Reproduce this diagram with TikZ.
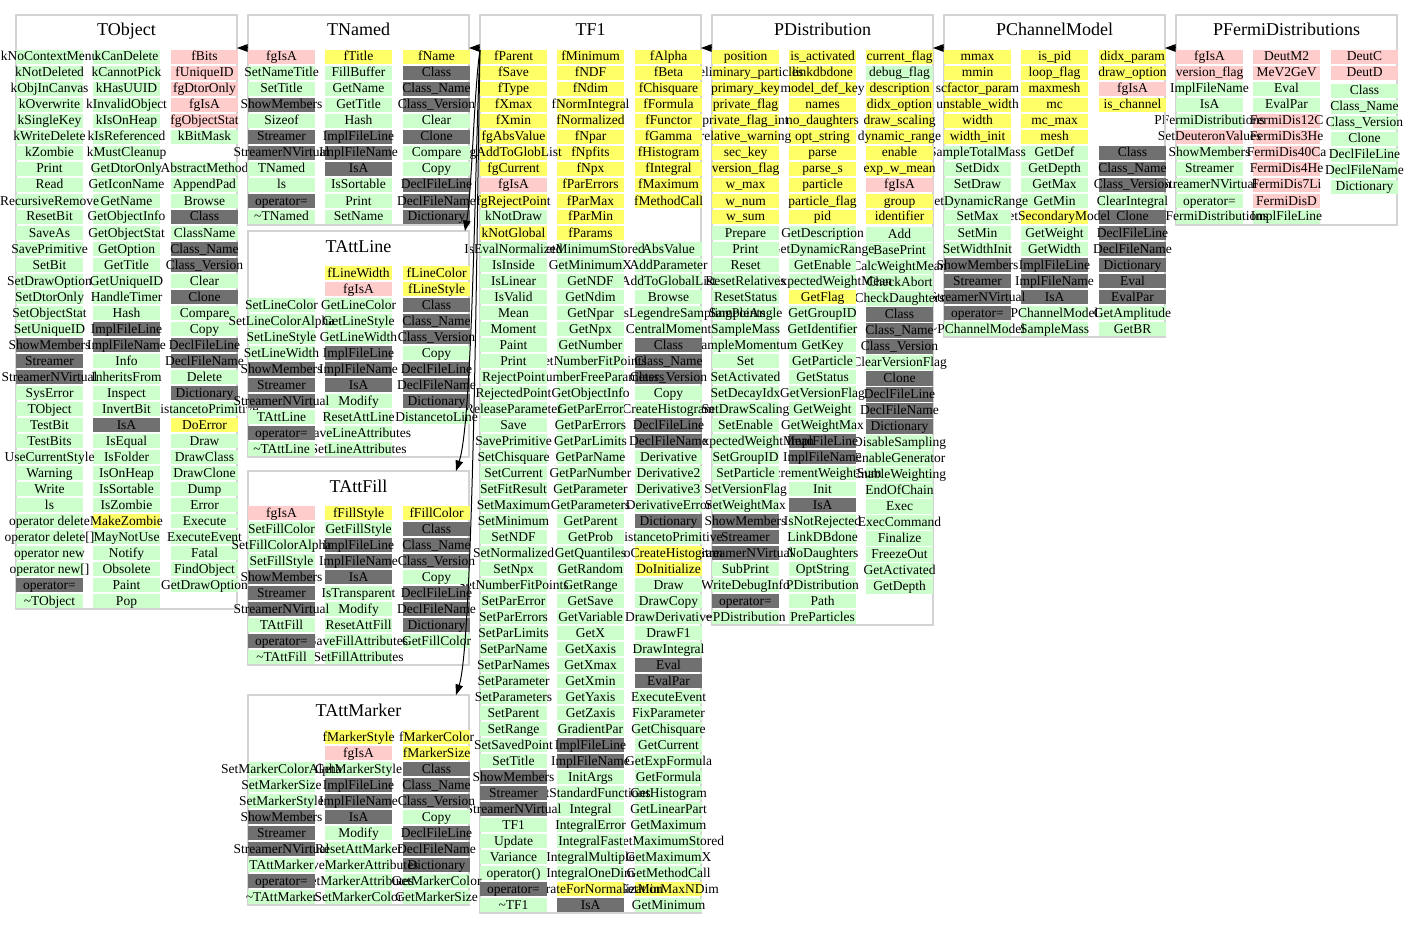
\documentclass[tikz,border=0pt]{standalone}
\usepackage{fontspec}
\setmainfont{Liberation Serif}
\usetikzlibrary{arrows.meta}

\definecolor{cm}{HTML}{CCFFCC}   % public methods
\definecolor{cy}{HTML}{FFFF66}   % protected members
\definecolor{cp}{HTML}{FFCCCC}   % private members
\definecolor{cd}{HTML}{707070}   % generated dictionary members
\definecolor{framegray}{HTML}{D3D3D3}

\newcommand\cellfont{\fontsize{13.5}{13.5}\selectfont}
\newcommand\titlefont{\fontsize{18}{18}\selectfont}

\tikzset{
  member/.style={anchor=base, inner sep=0pt, font=\cellfont},
  classbox/.style={draw=framegray, line width=1.3pt, anchor=north west,
    minimum width=221pt, inner sep=0pt, outer sep=0pt},
  classtitle/.style={anchor=base, inner sep=0pt, font=\titlefont},
  inherit/.style={-{Triangle[length=10.5pt,width=7.5pt]}, line width=1pt, black}
}

% one column of member cells
% #1 class name, #2 column, #3 left edge, #4 y of row 0, #5 row/colour/text list
\newcommand\membercol[5]{%
  \foreach \rw/\cl/\tx in {#5}{%
    \fill[fill=\cl] (#3,#4+\rw*16-7.3) rectangle ++(67,14.6);
    \node[member] (#1-#2-\rw) at (#3+33.5,#4+\rw*16+4) {\tx};
  }}

% class frame and title: #1 name, #2 left, #3 top, #4 height, #5 title
\newcommand\classframe[5]{%
  \node[classbox, minimum height=#4pt] (#1) at (#2,#3) {};
  \node[classtitle] (#1-title) at (#2+110.5,#3+21) {#5};
}

\begin{document}
\begin{tikzpicture}[x=1pt, y=-1pt]
\useasboundingbox (0,0) rectangle (1413,928);
\fill[white] (0,0) rectangle (1413,928);

% ---------------- PFermiDistributions ----------------
\classframe{pfermi}{1176}{15}{210}{PFermiDistributions}
\membercol{pfermi}{3}{1331}{57}{0/cp/DeutC, 1/cp/DeutD}
\membercol{pfermi}{3}{1331}{59}{2/cm/Class, 3/cm/Class\_Name, 4/cm/Class\_Version, 5/cm/Clone,
  6/cm/DeclFileLine, 7/cm/DeclFileName, 8/cm/Dictionary}
\membercol{pfermi}{2}{1253}{57}{0/cp/DeutM2, 1/cp/MeV2GeV, 2/cm/Eval, 3/cm/EvalPar,
  4/cp/FermiDis12C, 5/cp/FermiDis3He, 6/cp/FermiDis40Ca, 7/cp/FermiDis4He,
  8/cp/FermiDis7Li, 9/cp/FermiDisD, 10/cm/ImplFileLine}
\membercol{pfermi}{1}{1176}{57}{0/cp/fgIsA, 1/cp/version\_flag, 2/cm/ImplFileName, 3/cm/IsA,
  4/cm/PFermiDistributions, 5/cp/SetDeuteronValues, 6/cm/ShowMembers, 7/cm/Streamer,
  8/cm/StreamerNVirtual, 9/cm/operator=, 10/cm/\textasciitilde PFermiDistributions}

% ---------------- PChannelModel ----------------
\classframe{pchannel}{944}{15}{322}{PChannelModel}
\membercol{pchannel}{3}{1099}{57}{0/cy/didx\_param, 1/cy/draw\_option, 2/cp/fgIsA, 3/cy/is\_channel,
  6/cd/Class, 7/cd/Class\_Name, 8/cd/Class\_Version, 9/cm/ClearIntegral, 10/cd/Clone,
  11/cd/DeclFileLine, 12/cd/DeclFileName, 13/cd/Dictionary, 14/cd/Eval, 15/cd/EvalPar,
  16/cm/GetAmplitude, 17/cm/GetBR}
\membercol{pchannel}{2}{1021}{57}{0/cy/is\_pid, 1/cy/loop\_flag, 2/cy/maxmesh, 3/cy/mc,
  4/cy/mc\_max, 5/cy/mesh, 6/cm/GetDef, 7/cm/GetDepth, 8/cm/GetMax, 9/cm/GetMin,
  10/cy/GetSecondaryModel, 11/cm/GetWeight, 12/cm/GetWidth, 13/cd/ImplFileLine,
  14/cd/ImplFileName, 15/cd/IsA, 16/cm/PChannelModel, 17/cm/SampleMass}
\membercol{pchannel}{1}{944}{57}{0/cy/mmax, 1/cy/mmin, 2/cy/scfactor\_param, 3/cy/unstable\_width,
  4/cy/width, 5/cy/width\_init, 6/cm/SampleTotalMass, 7/cm/SetDidx, 8/cm/SetDraw,
  9/cm/SetDynamicRange, 10/cm/SetMax, 11/cm/SetMin, 12/cm/SetWidthInit, 13/cd/ShowMembers,
  14/cd/Streamer, 15/cd/StreamerNVirtual, 16/cd/operator=, 17/cm/\textasciitilde PChannelModel}

% ---------------- PDistribution ----------------
\classframe{pdist}{712}{15}{610}{PDistribution}
\membercol{pdist}{3}{866}{57}{0/cy/current\_flag, 1/cm/debug\_flag, 2/cy/description,
  3/cy/didx\_option, 4/cy/draw\_scaling, 5/cy/dynamic\_range, 6/cy/enable, 7/cy/exp\_w\_mean,
  8/cp/fgIsA, 9/cy/group, 10/cy/identifier}
\membercol{pdist}{3}{866}{58.5}{11/cm/Add, 12/cm/BasePrint, 13/cm/CalcWeightMean, 14/cm/CheckAbort,
  15/cm/CheckDaughters, 16/cd/Class, 17/cd/Class\_Name, 18/cd/Class\_Version,
  19/cm/ClearVersionFlag, 20/cd/Clone, 21/cd/DeclFileLine, 22/cd/DeclFileName,
  23/cd/Dictionary, 24/cm/DisableSampling, 25/cm/EnableGenerator, 26/cm/EnableWeighting,
  27/cm/EndOfChain, 28/cm/Exec, 29/cm/ExecCommand, 30/cm/Finalize, 31/cm/FreezeOut,
  32/cm/GetActivated, 33/cm/GetDepth}
\membercol{pdist}{2}{789}{57}{0/cy/is\_activated, 1/cy/linkdbdone, 2/cy/model\_def\_key,
  3/cy/names, 4/cy/no\_daughters, 5/cy/opt\_string, 6/cy/parse, 7/cy/parse\_s,
  8/cy/particle, 9/cy/particle\_flag, 10/cy/pid, 11/cm/GetDescription,
  12/cm/GetDynamicRange, 13/cm/GetEnable, 14/cm/GetExpectedWeightMean, 15/cy/GetFlag,
  16/cm/GetGroupID, 17/cm/GetIdentifier, 18/cm/GetKey, 19/cm/GetParticle, 20/cm/GetStatus,
  21/cm/GetVersionFlag, 22/cm/GetWeight, 23/cm/GetWeightMax, 24/cd/ImplFileLine,
  25/cd/ImplFileName, 26/cm/IncrementWeightSum, 27/cm/Init, 28/cd/IsA, 29/cm/IsNotRejected,
  30/cm/LinkDBdone, 31/cm/NoDaughters, 32/cm/OptString, 33/cm/PDistribution, 34/cm/Path,
  35/cm/PreParticles}
\membercol{pdist}{1}{712}{57}{0/cy/position, 1/cy/preliminary\_particles, 2/cy/primary\_key,
  3/cy/private\_flag, 4/cy/private\_flag\_int, 5/cy/relative\_warning, 6/cy/sec\_key,
  7/cy/version\_flag, 8/cy/w\_max, 9/cy/w\_num, 10/cy/w\_sum, 11/cm/Prepare, 12/cm/Print,
  13/cm/Reset, 14/cm/ResetRelatives, 15/cm/ResetStatus, 16/cm/SampleAngle, 17/cm/SampleMass,
  18/cm/SampleMomentum, 19/cm/Set, 20/cm/SetActivated, 21/cm/SetDecayIdx,
  22/cm/SetDrawScaling, 23/cm/SetEnable, 24/cm/SetExpectedWeightMean, 25/cm/SetGroupID,
  26/cm/SetParticle, 27/cm/SetVersionFlag, 28/cm/SetWeightMax, 29/cd/ShowMembers,
  30/cd/Streamer, 31/cd/StreamerNVirtual, 32/cm/SubPrint, 33/cm/WriteDebugInfo,
  34/cd/operator=, 35/cm/\textasciitilde PDistribution}

% ---------------- TF1 ----------------
\classframe{tf1}{480}{15}{898}{TF1}
\membercol{tf1}{3}{635}{57}{0/cy/fAlpha, 1/cy/fBeta, 2/cy/fChisquare, 3/cy/fFormula, 4/cy/fFunctor,
  5/cy/fGamma, 6/cy/fHistogram, 7/cy/fIntegral, 8/cy/fMaximum, 9/cy/fMethodCall,
  12/cm/AbsValue, 13/cm/AddParameter, 14/cm/AddToGlobalList, 15/cm/Browse,
  16/cm/CalcGaussLegendreSamplingPoints, 17/cm/CentralMoment, 18/cd/Class, 19/cd/Class\_Name,
  20/cd/Class\_Version, 21/cm/Copy, 22/cm/CreateHistogram, 23/cd/DeclFileLine,
  24/cd/DeclFileName, 25/cm/Derivative, 26/cm/Derivative2, 27/cm/Derivative3,
  28/cm/DerivativeError, 29/cd/Dictionary, 30/cm/DistancetoPrimitive, 31/cy/DoCreateHistogram,
  32/cy/DoInitialize, 33/cm/Draw, 34/cm/DrawCopy, 35/cm/DrawDerivative, 36/cm/DrawF1,
  37/cm/DrawIntegral, 38/cd/Eval, 39/cd/EvalPar, 40/cm/ExecuteEvent, 41/cm/FixParameter,
  42/cm/GetChisquare, 43/cm/GetCurrent, 44/cm/GetExpFormula, 45/cm/GetFormula,
  46/cm/GetHistogram, 47/cm/GetLinearPart, 48/cm/GetMaximum, 49/cm/GetMaximumStored,
  50/cm/GetMaximumX, 51/cm/GetMethodCall, 52/cy/GetMinMaxNDim, 53/cm/GetMinimum}
\membercol{tf1}{2}{557}{57}{0/cy/fMinimum, 1/cy/fNDF, 2/cy/fNdim, 3/cy/fNormIntegral, 4/cy/fNormalized,
  5/cy/fNpar, 6/cy/fNpfits, 7/cy/fNpx, 8/cy/fParErrors, 9/cy/fParMax, 10/cy/fParMin,
  11/cy/fParams, 12/cm/GetMinimumStored, 13/cm/GetMinimumX, 14/cm/GetNDF, 15/cm/GetNdim,
  16/cm/GetNpar, 17/cm/GetNpx, 18/cm/GetNumber, 19/cm/GetNumberFitPoints,
  20/cm/GetNumberFreeParameters, 21/cm/GetObjectInfo, 22/cm/GetParError, 23/cm/GetParErrors,
  24/cm/GetParLimits, 25/cm/GetParName, 26/cm/GetParNumber, 27/cm/GetParameter,
  28/cm/GetParameters, 29/cm/GetParent, 30/cm/GetProb, 31/cm/GetQuantiles, 32/cm/GetRandom,
  33/cm/GetRange, 34/cm/GetSave, 35/cm/GetVariable, 36/cm/GetX, 37/cm/GetXaxis,
  38/cm/GetXmax, 39/cm/GetXmin, 40/cm/GetYaxis, 41/cm/GetZaxis, 42/cm/GradientPar,
  43/cd/ImplFileLine, 44/cd/ImplFileName, 45/cm/InitArgs, 46/cm/InitStandardFunctions,
  47/cm/Integral, 48/cm/IntegralError, 49/cm/IntegralFast, 50/cm/IntegralMultiple,
  51/cm/IntegralOneDim, 52/cy/IntegrateForNormalization, 53/cd/IsA}
\membercol{tf1}{1}{480}{57}{0/cy/fParent, 1/cy/fSave, 2/cy/fType, 3/cy/fXmax, 4/cy/fXmin,
  5/cy/fgAbsValue, 6/cy/fgAddToGlobList, 7/cy/fgCurrent, 8/cp/fgIsA, 9/cy/fgRejectPoint,
  10/cm/kNotDraw, 11/cy/kNotGlobal, 12/cm/IsEvalNormalized, 13/cm/IsInside, 14/cm/IsLinear,
  15/cm/IsValid, 16/cm/Mean, 17/cm/Moment, 18/cm/Paint, 19/cm/Print, 20/cm/RejectPoint,
  21/cm/RejectedPoint, 22/cm/ReleaseParameter, 23/cm/Save, 24/cm/SavePrimitive,
  25/cm/SetChisquare, 26/cm/SetCurrent, 27/cm/SetFitResult, 28/cm/SetMaximum,
  29/cm/SetMinimum, 30/cm/SetNDF, 31/cm/SetNormalized, 32/cm/SetNpx,
  33/cm/SetNumberFitPoints, 34/cm/SetParError, 35/cm/SetParErrors, 36/cm/SetParLimits,
  37/cm/SetParName, 38/cm/SetParNames, 39/cm/SetParameter, 40/cm/SetParameters,
  41/cm/SetParent, 42/cm/SetRange, 43/cm/SetSavedPoint, 44/cm/SetTitle, 45/cd/ShowMembers,
  46/cd/Streamer, 47/cd/StreamerNVirtual, 48/cm/TF1, 49/cm/Update, 50/cm/Variance,
  51/cm/operator(), 52/cd/operator=, 53/cm/\textasciitilde TF1}

% ---------------- TObject ----------------
\classframe{tobject}{16}{15}{594}{TObject}
\membercol{tobject}{3}{171}{57}{0/cp/fBits, 1/cp/fUniqueID, 2/cp/fgDtorOnly, 3/cp/fgIsA,
  4/cp/fgObjectStat, 5/cm/kBitMask, 7/cm/AbstractMethod, 8/cm/AppendPad, 9/cm/Browse,
  10/cd/Class, 11/cm/ClassName, 12/cd/Class\_Name, 13/cd/Class\_Version, 14/cm/Clear,
  15/cd/Clone, 16/cm/Compare, 17/cm/Copy, 18/cd/DeclFileLine, 19/cd/DeclFileName,
  20/cm/Delete, 21/cd/Dictionary, 22/cm/DistancetoPrimitive, 23/cy/DoError, 24/cm/Draw,
  25/cm/DrawClass, 26/cm/DrawClone, 27/cm/Dump, 28/cm/Error, 29/cm/Execute,
  30/cm/ExecuteEvent, 31/cm/Fatal, 32/cm/FindObject, 33/cm/GetDrawOption}
\membercol{tobject}{2}{93}{57}{0/cm/kCanDelete, 1/cm/kCannotPick, 2/cm/kHasUUID,
  3/cm/kInvalidObject, 4/cm/kIsOnHeap, 5/cm/kIsReferenced, 6/cm/kMustCleanup,
  7/cm/GetDtorOnly, 8/cm/GetIconName, 9/cm/GetName, 10/cm/GetObjectInfo, 11/cm/GetObjectStat,
  12/cm/GetOption, 13/cm/GetTitle, 14/cm/GetUniqueID, 15/cm/HandleTimer, 16/cm/Hash,
  17/cd/ImplFileLine, 18/cd/ImplFileName, 19/cm/Info, 20/cm/InheritsFrom, 21/cm/Inspect,
  22/cm/InvertBit, 23/cd/IsA, 24/cm/IsEqual, 25/cm/IsFolder, 26/cm/IsOnHeap,
  27/cm/IsSortable, 28/cm/IsZombie, 29/cy/MakeZombie, 30/cm/MayNotUse, 31/cm/Notify,
  32/cm/Obsolete, 33/cm/Paint, 34/cm/Pop}
\membercol{tobject}{1}{16}{57}{0/cm/kNoContextMenu, 1/cm/kNotDeleted, 2/cm/kObjInCanvas,
  3/cm/kOverwrite, 4/cm/kSingleKey, 5/cm/kWriteDelete, 6/cm/kZombie, 7/cm/Print, 8/cm/Read,
  9/cm/RecursiveRemove, 10/cm/ResetBit, 11/cm/SaveAs, 12/cm/SavePrimitive, 13/cm/SetBit,
  14/cm/SetDrawOption, 15/cm/SetDtorOnly, 16/cm/SetObjectStat, 17/cm/SetUniqueID,
  18/cd/ShowMembers, 19/cd/Streamer, 20/cd/StreamerNVirtual, 21/cm/SysError, 22/cm/TObject,
  23/cm/TestBit, 24/cm/TestBits, 25/cm/UseCurrentStyle, 26/cm/Warning, 27/cm/Write, 28/cm/ls,
  29/cm/operator delete, 30/cm/operator delete[], 31/cm/operator new, 32/cm/operator new[],
  33/cd/operator=, 34/cm/\textasciitilde TObject}

% ---------------- TNamed ----------------
\classframe{tnamed}{248}{15}{210}{TNamed}
\membercol{tnamed}{3}{403}{57}{0/cy/fName, 1/cd/Class, 2/cd/Class\_Name, 3/cd/Class\_Version,
  4/cm/Clear, 5/cd/Clone, 6/cm/Compare, 7/cm/Copy, 8/cd/DeclFileLine, 9/cd/DeclFileName,
  10/cd/Dictionary}
\membercol{tnamed}{2}{325}{57}{0/cy/fTitle, 1/cm/FillBuffer, 2/cm/GetName, 3/cm/GetTitle,
  4/cm/Hash, 5/cd/ImplFileLine, 6/cd/ImplFileName, 7/cd/IsA, 8/cm/IsSortable, 9/cm/Print,
  10/cm/SetName}
\membercol{tnamed}{1}{248}{57}{0/cp/fgIsA, 1/cm/SetNameTitle, 2/cm/SetTitle, 3/cd/ShowMembers,
  4/cm/Sizeof, 5/cd/Streamer, 6/cd/StreamerNVirtual, 7/cm/TNamed, 8/cm/ls, 9/cd/operator=,
  10/cm/\textasciitilde TNamed}

% ---------------- TAttLine ----------------
\classframe{tattline}{248}{231}{226}{TAttLine}
\membercol{tattline}{3}{403}{273}{0/cy/fLineColor, 1/cy/fLineStyle, 2/cd/Class, 3/cd/Class\_Name,
  4/cd/Class\_Version, 5/cm/Copy, 6/cd/DeclFileLine, 7/cd/DeclFileName, 8/cd/Dictionary,
  9/cm/DistancetoLine}
\membercol{tattline}{2}{325}{273}{0/cy/fLineWidth, 1/cp/fgIsA, 2/cm/GetLineColor,
  3/cm/GetLineStyle, 4/cm/GetLineWidth, 5/cd/ImplFileLine, 6/cd/ImplFileName, 7/cd/IsA,
  8/cm/Modify, 9/cm/ResetAttLine, 10/cm/SaveLineAttributes, 11/cm/SetLineAttributes}
\membercol{tattline}{1}{248}{273}{2/cm/SetLineColor, 3/cm/SetLineColorAlpha, 4/cm/SetLineStyle,
  5/cm/SetLineWidth, 6/cd/ShowMembers, 7/cd/Streamer, 8/cd/StreamerNVirtual, 9/cm/TAttLine,
  10/cd/operator=, 11/cm/\textasciitilde TAttLine}

% ---------------- TAttFill ----------------
\classframe{tattfill}{248}{471}{194}{TAttFill}
\membercol{tattfill}{3}{403}{513}{0/cy/fFillColor, 1/cd/Class, 2/cd/Class\_Name,
  3/cd/Class\_Version, 4/cm/Copy, 5/cd/DeclFileLine, 6/cd/DeclFileName, 7/cd/Dictionary,
  8/cm/GetFillColor}
\membercol{tattfill}{2}{325}{513}{0/cy/fFillStyle, 1/cm/GetFillStyle, 2/cd/ImplFileLine,
  3/cd/ImplFileName, 4/cd/IsA, 5/cm/IsTransparent, 6/cm/Modify, 7/cm/ResetAttFill,
  8/cm/SaveFillAttributes, 9/cm/SetFillAttributes}
\membercol{tattfill}{1}{248}{513}{0/cp/fgIsA, 1/cm/SetFillColor, 2/cm/SetFillColorAlpha,
  3/cm/SetFillStyle, 4/cd/ShowMembers, 5/cd/Streamer, 6/cd/StreamerNVirtual, 7/cm/TAttFill,
  8/cd/operator=, 9/cm/\textasciitilde TAttFill}

% ---------------- TAttMarker ----------------
\classframe{tattmarker}{248}{695}{210}{TAttMarker}
\membercol{tattmarker}{3}{403}{737}{0/cy/fMarkerColor, 1/cy/fMarkerSize, 2/cd/Class,
  3/cd/Class\_Name, 4/cd/Class\_Version, 5/cm/Copy, 6/cd/DeclFileLine, 7/cd/DeclFileName,
  8/cd/Dictionary, 9/cm/GetMarkerColor, 10/cm/GetMarkerSize}
\membercol{tattmarker}{2}{325}{737}{0/cy/fMarkerStyle, 1/cp/fgIsA, 2/cm/GetMarkerStyle,
  3/cd/ImplFileLine, 4/cd/ImplFileName, 5/cd/IsA, 6/cm/Modify, 7/cm/ResetAttMarker,
  8/cm/SaveMarkerAttributes, 9/cm/SetMarkerAttributes, 10/cm/SetMarkerColor}
\membercol{tattmarker}{1}{248}{737}{2/cm/SetMarkerColorAlpha, 3/cm/SetMarkerSize,
  4/cm/SetMarkerStyle, 5/cd/ShowMembers, 6/cd/Streamer, 7/cd/StreamerNVirtual,
  8/cm/TAttMarker, 9/cd/operator=, 10/cm/\textasciitilde TAttMarker}

% ---------------- inheritance ----------------
\draw[inherit] ([yshift=-33pt]tnamed.north west) -- ([yshift=-33pt]tobject.north east);
\draw[inherit] ([yshift=-33pt]tf1.north west) -- ([yshift=-33pt]tnamed.north east);
\draw[inherit] ([yshift=-33pt]pdist.north west) -- ([yshift=-33pt]tf1.north east);
\draw[inherit] ([yshift=-33pt]pchannel.north west) -- ([yshift=-33pt]pdist.north east);
\draw[inherit] ([yshift=-33pt]pfermi.north west) -- ([yshift=-33pt]pchannel.north east);

\coordinate (tf1-port) at ([yshift=-35pt]tf1.north west);
\draw[inherit] (tf1-port) .. controls (474,90) and (472,190) .. ([xshift=-4pt]tattline.north east);
\draw[inherit] (tf1-port) .. controls (475,150) and (473,420) .. ([xshift=-13pt]tattfill.north east);
\draw[inherit] (tf1-port) .. controls (477,200) and (474,640) .. ([xshift=-13pt]tattmarker.north east);
\end{tikzpicture}
\end{document}
